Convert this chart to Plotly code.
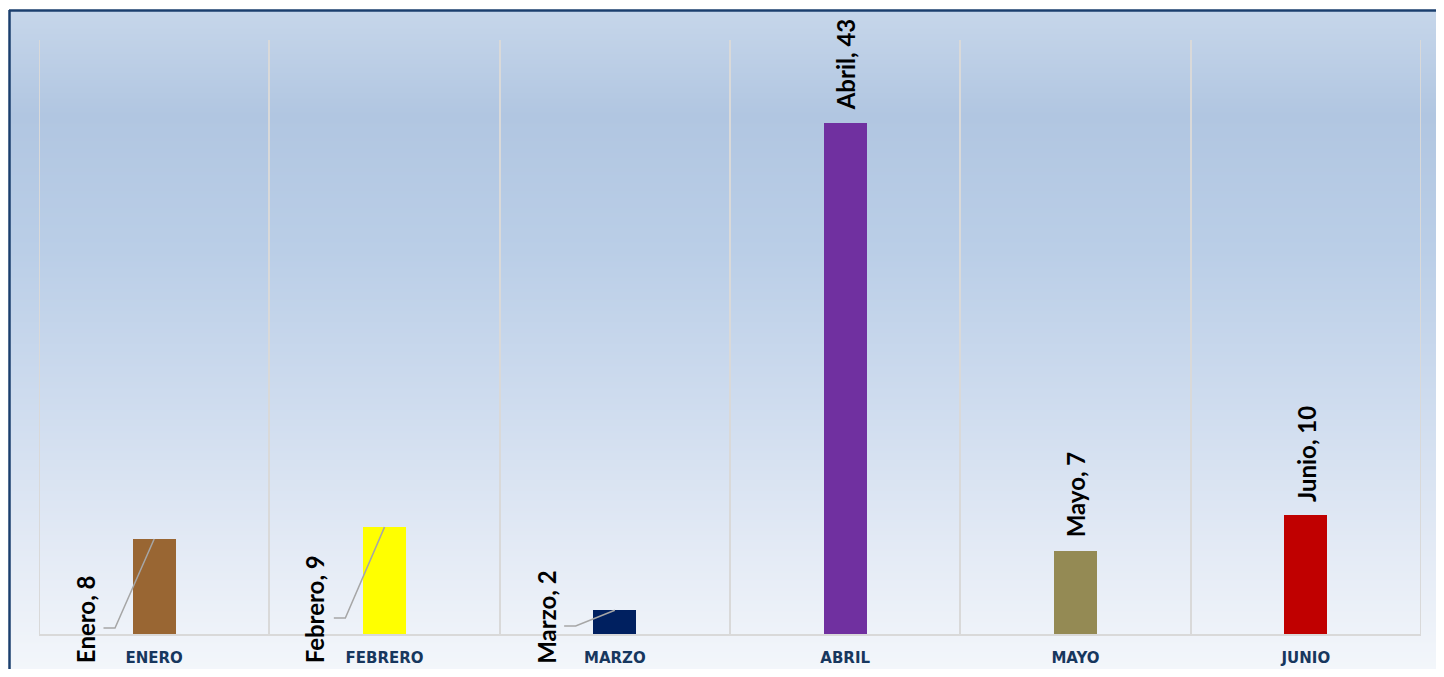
import base64
import struct
import zlib

import plotly.graph_objects as go

# data
months = ["Enero", "Febrero", "Marzo", "Abril", "Mayo", "Junio"]
tick_labels = ["ENERO", "FEBRERO", "MARZO", "ABRIL", "MAYO", "JUNIO"]
values = [8, 9, 2, 43, 7, 10]
bar_colors = ["#996633", "#ffff00", "#002060", "#7030a0", "#948a54", "#c00000"]

# label placement: small bars get a leader line and a label to the left
LEADER = {0: 0.5, 1: 1.35, 2: 0.67}   # y of the elbow for each small bar
TEXT_DX, START_DX, ELBOW_DX = -0.30, -0.22, -0.17

# the page body adds an 8px margin on every side; keep the page from overflowing
OFF = 8
SW, SH = 1444, 677
W, H = SW - OFF, SH - 2 * OFF
ML, MR, MT = 39 - OFF, 23, 40 - OFF
MB = H - (634 - OFF)
PW, PH = W - ML - MR, H - MT - MB

# background gradient stops (screen y, colour)
GRAD = [(11, (0xc6, 0xd6, 0xea)), (115, (0xb1, 0xc6, 0xe1)), (250, (0xba, 0xce, 0xe7)),
        (415, (0xd0, 0xdd, 0xef)), (545, (0xe3, 0xea, 0xf5)), (677, (0xf4, 0xf7, 0xfb))]


def _interp(py):
    for (y0, c0), (y1, c1) in zip(GRAD, GRAD[1:]):
        if y0 <= py <= y1:
            t = (py - y0) / (y1 - y0)
            return tuple(round(a + (b - a) * t) for a, b in zip(c0, c1))
    return GRAD[-1][1]


def _gradient_png(top, bottom):
    rows = b"".join(b"\x00" + bytes(_interp(py)) for py in range(top, bottom))
    def chunk(tag, data):
        c = struct.pack(">I", len(data)) + tag + data
        return c + struct.pack(">I", zlib.crc32(tag + data) & 0xffffffff)
    png = (b"\x89PNG\r\n\x1a\n"
           + chunk(b"IHDR", struct.pack(">IIBBBBB", 1, bottom - top, 8, 2, 0, 0, 0))
           + chunk(b"IDAT", zlib.compress(rows))
           + chunk(b"IEND", b""))
    return "data:image/png;base64," + base64.b64encode(png).decode()


def px_x(sx):
    return (sx - OFF - ML) / PW


def px_y(sy):
    return (H - MB - (sy - OFF)) / PH


x = list(range(len(months)))

fig = go.Figure()
fig.add_trace(go.Bar(x=x, y=values, marker_color=bar_colors, marker_line_width=0,
                     width=0.187, hoverinfo="skip"))

label_font = dict(family="Lato", size=24, color="#000000", weight="bold")
for i, name in enumerate(months):
    label = f"{name}, {values[i]}"
    if i in LEADER:
        ly = LEADER[i]
        fig.add_trace(go.Scatter(x=[i + START_DX, i + ELBOW_DX, i], y=[ly, ly, values[i]],
                                 mode="lines", line=dict(color="#a6a6a6", width=1.5),
                                 hoverinfo="skip", cliponaxis=False))
        # nudged up a little so the rotated text stays inside the page
        fig.add_annotation(x=i + TEXT_DX, y=ly, text=label, textangle=-90, showarrow=False,
                           xanchor="center", yanchor="middle", yshift=9, font=label_font)
    else:
        fig.add_annotation(x=i, y=values[i], text=label, textangle=-90, showarrow=False,
                           xanchor="center", yanchor="bottom", yshift=11, font=label_font)

top, bottom = 11, SH
fig.add_layout_image(dict(source=_gradient_png(top, bottom), xref="paper", yref="paper",
                          x=px_x(10), y=px_y(top), sizex=px_x(SW + 2) - px_x(10),
                          sizey=px_y(top) - px_y(bottom), sizing="stretch",
                          xanchor="left", yanchor="top", layer="below"))

# outer category boundaries (plotly drops gridlines sitting on the range ends)
for edge in (-0.5, len(months) - 0.5):
    fig.add_shape(type="line", xref="x", yref="paper", x0=edge, x1=edge, y0=0, y1=1,
                  layer="below", line=dict(color="#d9d9d9", width=2))

# dark frame on top and left
fig.add_shape(type="line", xref="paper", yref="paper", x0=px_x(9), x1=px_x(SW + 2),
              y0=px_y(10.5), y1=px_y(10.5), line=dict(color="#1b3f6e", width=2.5))
fig.add_shape(type="line", xref="paper", yref="paper", x0=px_x(9.5), x1=px_x(9.5),
              y0=px_y(10), y1=px_y(SH + 2), line=dict(color="#1b3f6e", width=2.5))

fig.update_layout(
    width=W, height=H,
    margin=dict(l=ML, r=MR, t=MT, b=MB, autoexpand=False),
    paper_bgcolor="#ffffff",
    plot_bgcolor="rgba(0,0,0,0)",
    showlegend=False,
    bargap=0,
)
fig.update_xaxes(
    range=[-0.5, 5.5], tickvals=x, ticktext=tick_labels, ticks="", showgrid=False,
    zeroline=False, showline=True, linecolor="#d9d9d9", linewidth=2,
    automargin=False, ticklabelstandoff=9,
    tickfont=dict(family="DejaVu Sans", size=15, color="#17375e", weight="bold"),
    minor=dict(tickvals=[i - 0.5 for i in range(len(months) + 1)], showgrid=True,
               gridcolor="#d9d9d9", gridwidth=2, ticks=""),
)
fig.update_yaxes(range=[0, 50], visible=False, automargin=False)

fig.write_html("out.html")
